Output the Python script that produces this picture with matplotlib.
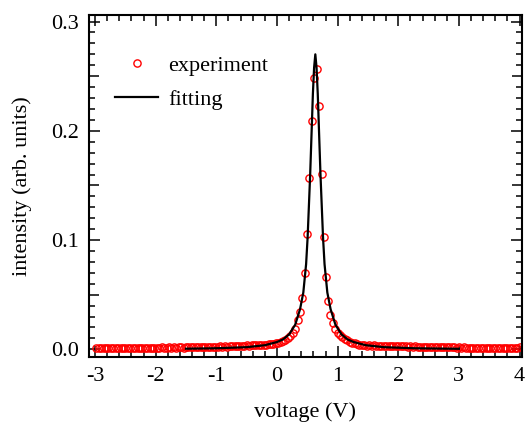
import matplotlib
matplotlib.use("Agg")
import matplotlib.pyplot as plt
from matplotlib.ticker import MultipleLocator, FormatStrFormatter

plt.rcParams['font.family'] = ['Liberation Serif', 'DejaVu Serif']
plt.rcParams['mathtext.fontset'] = 'stix'

# ---------------- data ----------------
voltage_exp = [
    -2.98, -2.94, -2.90, -2.86, -2.82, -2.78, -2.74, -2.70, -2.66, -2.62, -2.58, -2.54, -2.50,
    -2.46, -2.42, -2.38, -2.34, -2.30, -2.26, -2.22, -2.18, -2.14, -2.10, -2.06, -2.02,
    -1.98, -1.94, -1.90, -1.86, -1.82, -1.78, -1.74, -1.70, -1.66, -1.62, -1.58, -1.54, -1.50,
    -1.46, -1.42, -1.38, -1.34, -1.30, -1.26, -1.22, -1.18, -1.14, -1.10, -1.06, -1.02,
    -0.98, -0.94, -0.90, -0.86, -0.82, -0.78, -0.74, -0.70, -0.66, -0.62, -0.58, -0.54, -0.50,
    -0.46, -0.42, -0.38, -0.34, -0.30, -0.26, -0.22, -0.18, -0.14, -0.10, -0.06, -0.02,
    0.02, 0.06, 0.10, 0.14, 0.18, 0.22, 0.26,
    0.297, 0.340, 0.380, 0.413, 0.456, 0.489, 0.528, 0.571, 0.616, 0.654, 0.693, 0.736,
    0.776, 0.809, 0.842, 0.880, 0.924,
    0.96, 1.00, 1.04, 1.08, 1.12, 1.16, 1.20, 1.24, 1.28, 1.32, 1.36, 1.40, 1.44, 1.48,
    1.52, 1.56, 1.60, 1.64, 1.68, 1.72, 1.76, 1.80, 1.84, 1.88, 1.92, 1.96, 2.00, 2.04,
    2.08, 2.12, 2.16, 2.20, 2.24, 2.28, 2.32, 2.36, 2.40, 2.44, 2.48, 2.52, 2.56, 2.60,
    2.64, 2.68, 2.72, 2.76, 2.80, 2.84, 2.88, 2.92, 2.96, 3.00, 3.04, 3.08, 3.12, 3.16,
    3.20, 3.24, 3.28, 3.32, 3.36, 3.40, 3.44, 3.48, 3.52, 3.56, 3.60, 3.64, 3.68, 3.72,
    3.76, 3.80, 3.84, 3.88, 3.92, 3.96, 4.00,
]
intensity_exp = [
    0.0013, 0.0011, 0.0014, 0.0010, 0.0012, 0.0015, 0.0011, 0.0013, 0.0012, 0.0016, 0.0012, 0.0010, 0.0014,
    0.0013, 0.0011, 0.0015, 0.0012, 0.0014, 0.0013, 0.0011, 0.0016, 0.0013, 0.0015, 0.0012, 0.0014,
    0.0015, 0.0013, 0.0017, 0.0014, 0.0016, 0.0018, 0.0015, 0.0017, 0.0016, 0.0019, 0.0017, 0.0015, 0.0018,
    0.0020, 0.0017, 0.0019, 0.0021, 0.0018, 0.0020, 0.0023, 0.0021, 0.0019, 0.0022, 0.0024, 0.0022,
    0.0025, 0.0027, 0.0024, 0.0028, 0.0026, 0.0029, 0.0031, 0.0028, 0.0030, 0.0033, 0.0031, 0.0034, 0.0036,
    0.0033, 0.0037, 0.0039, 0.0036, 0.0040, 0.0042, 0.0041, 0.0044, 0.0046, 0.0048, 0.0051, 0.0055,
    0.0060, 0.0068, 0.0077, 0.0087, 0.0100, 0.0120, 0.0146,
    0.0183, 0.0266, 0.0342, 0.0474, 0.0697, 0.1052, 0.1572, 0.2089, 0.2484, 0.2566, 0.2229, 0.1606,
    0.1025, 0.0661, 0.0438, 0.0318, 0.0245,
    0.0185, 0.0152, 0.0130, 0.0112, 0.0095, 0.0082, 0.0071, 0.0062, 0.0055, 0.0049, 0.0044, 0.0040, 0.0038, 0.0035,
    0.0037, 0.0034, 0.0036, 0.0033, 0.0035, 0.0032, 0.0034, 0.0031, 0.0030, 0.0032, 0.0029, 0.0031, 0.0028, 0.0030,
    0.0027, 0.0029, 0.0026, 0.0028, 0.0025, 0.0027, 0.0024, 0.0026, 0.0023, 0.0025, 0.0022, 0.0024, 0.0021, 0.0023,
    0.0020, 0.0022, 0.0019, 0.0021, 0.0018, 0.0020, 0.0017, 0.0019, 0.0016, 0.0018, 0.0015, 0.0017, 0.0014, 0.0016,
    0.0013, 0.0015, 0.0012, 0.0016, 0.0013, 0.0011, 0.0014, 0.0012, 0.0015, 0.0011, 0.0013, 0.0010, 0.0014, 0.0012,
    0.0010, 0.0013, 0.0011, 0.0009, 0.0012, 0.0010, 0.0019,
]

voltage_fit = [
    -1.50, -1.00, -0.50, -0.20, 0.00, 0.10, 0.20, 0.30, 0.38, 0.434, 0.48, 0.505, 0.547,
    0.592, 0.612, 0.632, 0.652, 0.672, 0.717, 0.759, 0.784, 0.830, 0.884, 0.964, 1.064,
    1.164, 1.264, 1.464, 1.764, 2.264, 3.00,
]
intensity_fit = [
    0.0006, 0.0010, 0.0020, 0.0038, 0.0067, 0.0091, 0.0137, 0.0225, 0.0367, 0.0520, 0.0780, 0.1025, 0.1600,
    0.2340, 0.2580, 0.2700, 0.2580, 0.2340, 0.1600, 0.1025, 0.0780, 0.0520, 0.0367, 0.0225, 0.0137,
    0.0091, 0.0067, 0.0038, 0.0020, 0.0010, 0.0005,
]

legend_labels = ["experiment", "fitting"]
x_label = "voltage (V)"
y_label = "intensity (arb. units)"

# ---------------- figure ----------------
fig = plt.figure(figsize=(5.27, 4.22), dpi=100)
ax = fig.add_axes([89 / 527, (422 - 357) / 422, (522 - 89) / 527, (357 - 15) / 422])

ax.plot(voltage_exp, intensity_exp, linestyle='none', marker='o', ms=5.2,
        mfc='none', mec='#ff0000', mew=1.0, label=legend_labels[0], zorder=2)
ax.plot(voltage_fit, intensity_fit, color='black', lw=1.6, label=legend_labels[1], zorder=3)

ax.set_xlim(-3.1, 4.04)
ax.set_ylim(-0.007, 0.306)

ax.xaxis.set_major_locator(MultipleLocator(1))
ax.xaxis.set_minor_locator(MultipleLocator(0.2))
ax.yaxis.set_major_locator(MultipleLocator(0.1))
ax.yaxis.set_minor_locator(MultipleLocator(0.01))
ax.yaxis.set_major_formatter(FormatStrFormatter('%.1f'))
ax.xaxis.set_major_formatter(FormatStrFormatter('%d'))

ax.tick_params(which='both', direction='in', top=True, right=True, labelsize=16, width=1.1)
ax.tick_params(which='major', length=8, pad=7)
ax.tick_params(which='minor', length=4.5)
for s in ax.spines.values():
    s.set_linewidth(1.5)

ax.set_xlabel(x_label, fontsize=16, labelpad=12)
ax.set_ylabel(y_label, fontsize=16, labelpad=14)

ax.legend(loc='upper left', bbox_to_anchor=(0.0395, 0.907), frameon=False, fontsize=16,
          handlelength=1.95, handletextpad=0.45, labelspacing=0.58, borderaxespad=0.0)

fig.canvas.draw()
locs = ax.yaxis.get_minorticklocs()
ticks = ax.yaxis.get_minor_ticks(len(locs))
for t, loc in zip(ticks, locs):
    r = loc / 0.05
    if abs(r - round(r)) < 1e-6:
        t.tick1line.set_markersize(7.5)
        t.tick2line.set_markersize(7.5)

fig.savefig("out.png", dpi=100)
